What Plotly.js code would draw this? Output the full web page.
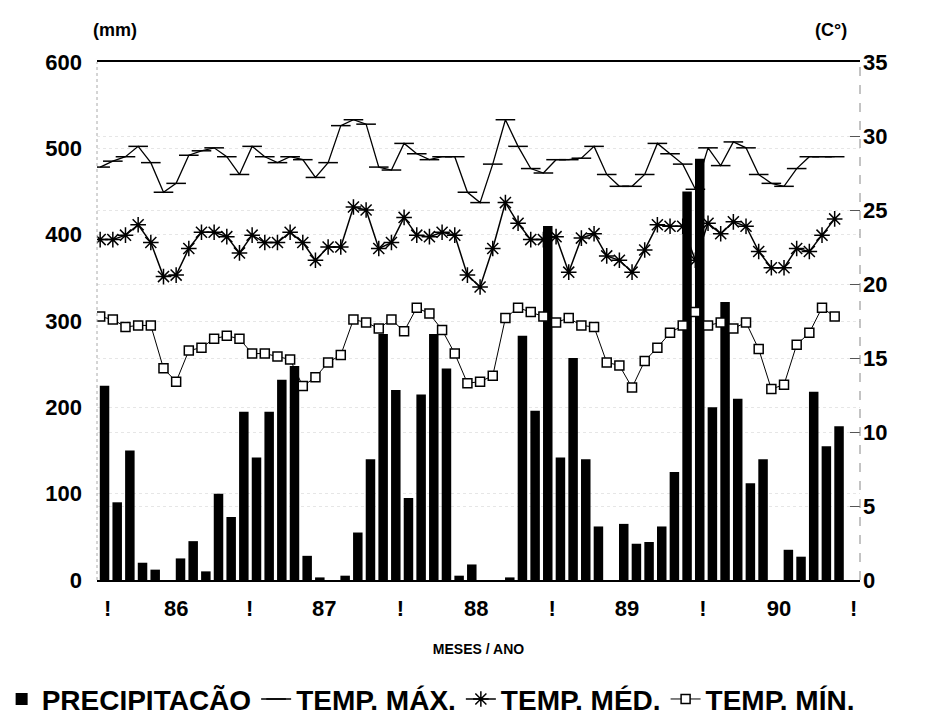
<!DOCTYPE html>
<html>
<head>
<meta charset="utf-8">
<script src="https://cdn.plot.ly/plotly-3.0.1.min.js"></script>
<style>
html,body{margin:0;padding:0;background:#fff;}
#chart{width:941px;height:725px;}
</style>
</head>
<body>
<div id="chart"></div>
<script>
// Monthly precipitation (mm), 1986-1990 (59 months)
const precipitacao = [225, 90, 150, 20, 12, 0, 25, 45, 10, 100,
                      73, 195, 142, 195, 232, 248, 28, 3, 0, 5,
                      55, 140, 285, 220, 95, 215, 285, 245, 5, 18,
                      0, 0, 3, 283, 196, 410, 142, 257, 140, 62,
                      0, 65, 42, 44, 62, 125, 450, 488, 200, 322,
                      210, 112, 140, 0, 35, 27, 218, 155, 178];
// Temperatures (°C)
const tempMax = [27.9, 28.3, 28.6, 29.3, 28.2, 26.2, 26.8, 28.7, 29.0, 29.2,
                 28.6, 27.4, 29.3, 28.6, 28.2, 28.6, 28.4, 27.2, 28.2, 30.7,
                 31.1, 30.8, 27.9, 27.7, 29.5, 28.8, 28.4, 28.6, 28.6, 26.2,
                 25.5, 28.1, 31.1, 29.3, 27.8, 27.5, 28.4, 28.4, 28.5, 29.3,
                 27.4, 26.6, 26.6, 27.4, 29.5, 28.8, 28.1, 26.4, 29.2, 28.0,
                 29.6, 29.2, 27.4, 26.8, 26.6, 27.8, 28.6, 28.6, 28.6];
const tempMed = [23.0, 23.0, 23.3, 24.0, 22.8, 20.5, 20.6, 22.4, 23.5, 23.5,
                 23.2, 22.1, 23.3, 22.8, 22.8, 23.5, 22.8, 21.6, 22.5, 22.5,
                 25.2, 25.0, 22.4, 22.8, 24.5, 23.3, 23.2, 23.5, 23.3, 20.6,
                 19.8, 22.4, 25.5, 24.1, 23.0, 23.0, 23.2, 20.8, 23.1, 23.4,
                 21.9, 21.6, 20.8, 22.3, 24.0, 23.9, 23.9, 21.6, 24.1, 23.4,
                 24.2, 23.9, 22.2, 21.1, 21.1, 22.4, 22.2, 23.3, 24.4];
const tempMin = [17.8, 17.6, 17.1, 17.2, 17.2, 14.3, 13.4, 15.5, 15.7, 16.3,
                 16.5, 16.3, 15.3, 15.3, 15.1, 14.9, 13.1, 13.7, 14.7, 15.2,
                 17.6, 17.4, 17.0, 17.6, 16.8, 18.4, 18.0, 16.9, 15.3, 13.3,
                 13.4, 13.8, 17.7, 18.4, 18.1, 17.8, 17.4, 17.7, 17.2, 17.1,
                 14.7, 14.5, 13.0, 14.8, 15.7, 16.7, 17.2, 18.1, 17.2, 17.4,
                 17.0, 17.4, 15.6, 12.9, 13.2, 15.9, 16.7, 18.4, 17.8];
// Month index (category axis)
const meses = precipitacao.map((_, i) => i);
// X tick labels (year marks)
const xTickPos = [0.6, 6.0, 11.8, 17.7, 23.7, 29.7, 35.7, 41.6, 47.6, 53.6, 59.5];
const xTickText = ['!', '86', '!', '87', '!', '88', '!', '89', '!', '90', '!'];
const yTicksMm = [0, 100, 200, 300, 400, 500, 600];
const yTicksC = [0, 5, 10, 15, 20, 25, 30, 35];

const FONT = 'Liberation Sans, Arial, Helvetica, sans-serif';

const traces = [
  {
    type: 'bar', name: 'PRECIPITACÃO', x: meses, y: precipitacao,
    width: 0.75, offset: -0.03,
    marker: {color: '#000', line: {width: 0}},
    yaxis: 'y'
  },
  {
    type: 'scatter', mode: 'lines+markers', name: 'TEMP. MÁX.', x: meses, y: tempMax,
    line: {color: '#000', width: 1.3},
    marker: {symbol: 'line-ew', size: 14, line: {color: '#000', width: 1.5}},
    yaxis: 'y2'
  },
  {
    type: 'scatter', mode: 'lines+markers', name: 'TEMP. MÉD.', x: meses, y: tempMed,
    line: {color: '#000', width: 1.5},
    marker: {symbol: 'asterisk', size: 13, color: '#000', line: {color: '#000', width: 1.5}},
    yaxis: 'y2'
  },
  {
    type: 'scatter', mode: 'lines+markers', name: 'TEMP. MÍN.', x: meses, y: tempMin,
    line: {color: '#000', width: 1},
    marker: {symbol: 'square', size: 9, color: '#fff', line: {color: '#000', width: 1.5}},
    yaxis: 'y2'
  }
];

const layout = {
  width: 941, height: 725,
  margin: {l: 97, r: 81, t: 62, b: 145, autoexpand: false},
  paper_bgcolor: '#fff', plot_bgcolor: '#fff',
  font: {family: FONT, color: '#000', size: 22, weight: 'bold'},
  showlegend: true,
  legend: {
    orientation: 'h', x: -0.125, xanchor: 'left', y: -0.182, yanchor: 'top',
    font: {family: FONT, size: 28, weight: 'bold', color: '#000'},
    itemwidth: 30, tracegroupgap: 0, traceorder: 'normal'
  },
  xaxis: {
    range: [-0.25, 60], tickmode: 'array', tickvals: xTickPos, ticktext: xTickText,
    showgrid: false, zeroline: false, showline: true, mirror: true,
    linecolor: '#000', linewidth: 2, ticks: '',
    tickfont: {family: FONT, size: 22, weight: 'bold'},
    ticklabelstandoff: 8,
    title: {text: 'MESES / ANO', font: {family: FONT, size: 14, weight: 'bold'}, standoff: 24}
  },
  yaxis: {
    range: [0, 600], tickmode: 'array', tickvals: yTicksMm,
    showgrid: true, gridcolor: '#e6e6e6', griddash: 'dot', gridwidth: 1,
    zeroline: false, showline: false, ticks: '',
    tickfont: {family: FONT, size: 22, weight: 'bold'},
    ticklabelstandoff: 14
  },
  yaxis2: {
    overlaying: 'y', side: 'right', range: [0, 35], tickmode: 'array', tickvals: yTicksC,
    showgrid: true, gridcolor: '#e6e6e6', griddash: 'dot', gridwidth: 1,
    zeroline: false, showline: false, ticks: 'inside', ticklen: 10, tickcolor: '#555', tickwidth: 1,
    tickfont: {family: FONT, size: 22, weight: 'bold'},
    ticklabelstandoff: 2
  },
  shapes: [
    {type: 'line', xref: 'paper', yref: 'paper', x0: 0, x1: 0, y0: 0, y1: 1,
     line: {color: '#aaa', width: 1, dash: 'dot'}},
    {type: 'line', xref: 'paper', yref: 'paper', x0: 1, x1: 1, y0: 0, y1: 1,
     line: {color: '#888', width: 1, dash: 'dash'}}
  ],
  annotations: [
    {text: '(mm)', xref: 'paper', yref: 'paper', x: 0.024, y: 1.062, xanchor: 'center', yanchor: 'middle',
     showarrow: false, font: {family: FONT, size: 18, weight: 'bold'}},
    {text: '(C°)', xref: 'paper', yref: 'paper', x: 0.962, y: 1.062, xanchor: 'center', yanchor: 'middle',
     showarrow: false, font: {family: FONT, size: 18, weight: 'bold'}}
  ]
};

Plotly.newPlot('chart', traces, layout, {displayModeBar: false, staticPlot: true});
</script>
</body>
</html>
